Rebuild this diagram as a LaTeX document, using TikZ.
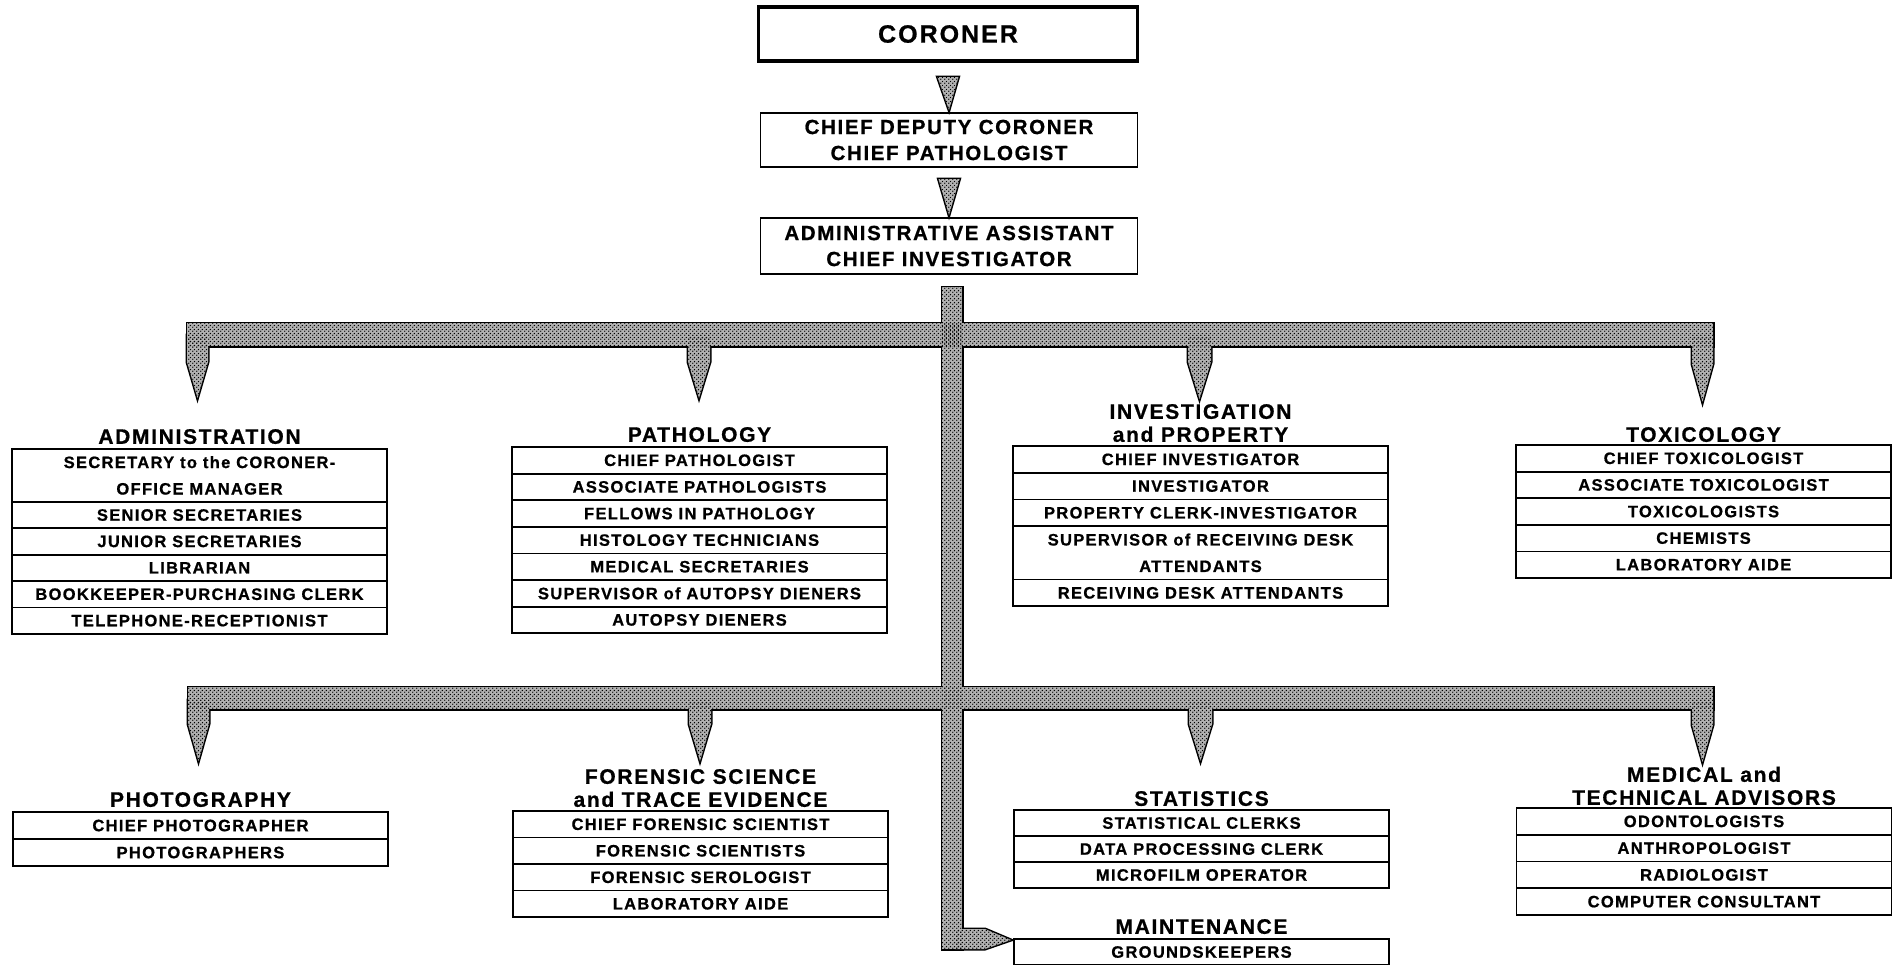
\documentclass[tikz,border=0pt]{standalone}
\usepackage{fontspec}
\setmainfont{Liberation Sans}[LetterSpace=8,BoldFeatures={FakeBold=0.8}]
\usetikzlibrary{calc,patterns}
\pgfdeclarepatternformonly{stipple}{\pgfqpoint{0pt}{0pt}}{\pgfqpoint{4pt}{4pt}}{\pgfqpoint{4pt}{4pt}}{%
  \pgfpathcircle{\pgfqpoint{1pt}{1pt}}{0.85pt}%
  \pgfpathcircle{\pgfqpoint{3pt}{3pt}}{0.85pt}%
  \pgfusepath{fill}}
\newcommand\orgrowfont{\fontsize{16.5}{26.5}\selectfont\bfseries}
\newcommand\orgttlfont{\fontsize{21}{23}\selectfont\bfseries}
\newcommand\orgtopfont{\fontsize{20.5}{26}\selectfont\bfseries}
\newcommand\orgbigfont{\fontsize{25}{28}\selectfont\bfseries}
\tikzset{
  rowbox/.style={draw, line width=1.8pt, minimum width=375pt, minimum height=#1,
    inner sep=0pt, outer sep=0pt, anchor=north, font=\orgrowfont, align=center},
  rowbox/.default=26.5pt,
  ttl/.style={anchor=south, inner sep=0pt, outer sep=0pt, font=\orgttlfont, align=center},
  topbox/.style={draw, line width=1.8pt, minimum width=377pt, minimum height=55pt,
    inner sep=0pt, outer sep=0pt, font=\orgtopfont, align=center},
  busline/.style={draw=black, line width=3pt, line join=miter, miter limit=20},
  busbase/.style={fill=black!30},
  busdots/.style={pattern=stipple, pattern color=black},
}
\newcommand\busparts[1]{%
  #1 (942,287) rectangle (962,949);
  #1 (187,323) rectangle (1713,346);
  #1 (188,687) rectangle (1713,709);
  #1 (187,335) -- (187,362) -- (197.5,398) -- (208,362) -- (208,335) -- cycle;
  #1 (688,335) -- (688,362) -- (699,398) -- (710,362) -- (710,335) -- cycle;
  #1 (1188,335) -- (1188,362) -- (1199.5,399) -- (1211,362) -- (1211,335) -- cycle;
  #1 (1692,335) -- (1692,364) -- (1702.5,402) -- (1713,364) -- (1713,335) -- cycle;
  #1 (188,700) -- (188,724) -- (198.5,761) -- (209,724) -- (209,700) -- cycle;
  #1 (689,700) -- (689,724) -- (700,761) -- (711,724) -- (711,700) -- cycle;
  #1 (1189,700) -- (1189,724) -- (1200.5,761) -- (1212,724) -- (1212,700) -- cycle;
  #1 (1692,700) -- (1692,725) -- (1702.5,762) -- (1713,725) -- (1713,700) -- cycle;
  #1 (955,929) -- (985,929) -- ($(mnt1.north west)+(-3,1)$) -- (985,949) -- (955,949) -- cycle;
  #1 ($(cor.south)+(-10.5,16)$) -- ($(dep.north)+(0,-3)$) -- ($(cor.south)+(10.5,16)$) -- cycle;
  #1 ($(dep.south)+(-10.5,12)$) -- ($(ast.north)+(0,-3)$) -- ($(dep.south)+(10.5,12)$) -- cycle;
}
\begin{document}
\begin{tikzpicture}[x=1pt,y=-1pt]
\useasboundingbox (0,0) rectangle (1894,964);
\clip (0,0) rectangle (1894,964);
\fill[white] (0,0) rectangle (1894,964);

% top chain
\node[topbox, line width=3.2pt, font=\orgbigfont, minimum width=379pt, minimum height=54pt] (cor) at (948,34) {CORONER};
\node[topbox, minimum height=54pt] (dep) at (949,140) {CHIEF DEPUTY CORONER\\CHIEF PATHOLOGIST};
\node[topbox, minimum height=56pt] (ast) at (949,246) {ADMINISTRATIVE ASSISTANT\\CHIEF INVESTIGATOR};

% ADMINISTRATION
\node[rowbox=52.8pt] (adm1) at (199.5,449) {SECRETARY to the CORONER-\\OFFICE MANAGER};
\node[rowbox=26.4pt] (adm2) at (adm1.south) {SENIOR SECRETARIES};
\node[rowbox=26.4pt] (adm3) at (adm2.south) {JUNIOR SECRETARIES};
\node[rowbox=26.4pt] (adm4) at (adm3.south) {LIBRARIAN};
\node[rowbox=26.4pt] (adm5) at (adm4.south) {BOOKKEEPER-PURCHASING CLERK};
\node[rowbox=26.4pt] (adm6) at (adm5.south) {TELEPHONE-RECEPTIONIST};
\node[ttl] (admT) at ($(adm1.north)+(0,-5)$) {ADMINISTRATION};

% PATHOLOGY
\node[rowbox=26.6pt] (pat1) at (699.5,447) {CHIEF PATHOLOGIST};
\node[rowbox=26.6pt] (pat2) at (pat1.south) {ASSOCIATE PATHOLOGISTS};
\node[rowbox=26.6pt] (pat3) at (pat2.south) {FELLOWS IN PATHOLOGY};
\node[rowbox=26.6pt] (pat4) at (pat3.south) {HISTOLOGY TECHNICIANS};
\node[rowbox=26.6pt] (pat5) at (pat4.south) {MEDICAL SECRETARIES};
\node[rowbox=26.6pt] (pat6) at (pat5.south) {SUPERVISOR of AUTOPSY DIENERS};
\node[rowbox=26.6pt] (pat7) at (pat6.south) {AUTOPSY DIENERS};
\node[ttl] (patT) at ($(pat1.north)+(0,-5)$) {PATHOLOGY};

% INVESTIGATION and PROPERTY
\node[rowbox=26.7pt] (inv1) at (1200.5,446) {CHIEF INVESTIGATOR};
\node[rowbox=26.7pt] (inv2) at (inv1.south) {INVESTIGATOR};
\node[rowbox=26.7pt] (inv3) at (inv2.south) {PROPERTY CLERK-INVESTIGATOR};
\node[rowbox=53.4pt] (inv4) at (inv3.south) {SUPERVISOR of RECEIVING DESK\\ATTENDANTS};
\node[rowbox=26.7pt] (inv5) at (inv4.south) {RECEIVING DESK ATTENDANTS};
\node[ttl] (invT) at ($(inv1.north)+(0,-4)$) {INVESTIGATION\\and PROPERTY};

% TOXICOLOGY
\node[rowbox=26.6pt] (tox1) at (1703.5,445) {CHIEF TOXICOLOGIST};
\node[rowbox=26.6pt] (tox2) at (tox1.south) {ASSOCIATE TOXICOLOGIST};
\node[rowbox=26.6pt] (tox3) at (tox2.south) {TOXICOLOGISTS};
\node[rowbox=26.6pt] (tox4) at (tox3.south) {CHEMISTS};
\node[rowbox=26.6pt] (tox5) at (tox4.south) {LABORATORY AIDE};
\node[ttl] (toxT) at ($(tox1.north)+(0,-3)$) {TOXICOLOGY};

% PHOTOGRAPHY
\node[rowbox=27pt] (pho1) at (200.5,812) {CHIEF PHOTOGRAPHER};
\node[rowbox=27pt] (pho2) at (pho1.south) {PHOTOGRAPHERS};
\node[ttl] (phoT) at ($(pho1.north)+(0,-5)$) {PHOTOGRAPHY};

% FORENSIC SCIENCE
\node[rowbox=26.5pt] (for1) at (700.5,811) {CHIEF FORENSIC SCIENTIST};
\node[rowbox=26.5pt] (for2) at (for1.south) {FORENSIC SCIENTISTS};
\node[rowbox=26.5pt] (for3) at (for2.south) {FORENSIC SEROLOGIST};
\node[rowbox=26.5pt] (for4) at (for3.south) {LABORATORY AIDE};
\node[ttl] (forT) at ($(for1.north)+(0,-4)$) {FORENSIC SCIENCE\\and TRACE EVIDENCE};

% STATISTICS
\node[rowbox=26pt] (sta1) at (1201.5,810) {STATISTICAL CLERKS};
\node[rowbox=26pt] (sta2) at (sta1.south) {DATA PROCESSING CLERK};
\node[rowbox=26pt] (sta3) at (sta2.south) {MICROFILM OPERATOR};
\node[ttl] (staT) at ($(sta1.north)+(0,-4)$) {STATISTICS};

% MAINTENANCE
\node[rowbox=26pt] (mnt1) at (1201.5,939) {GROUNDSKEEPERS};
\node[ttl] (mntT) at ($(mnt1.north)+(0,-5)$) {MAINTENANCE};

% MEDICAL and TECHNICAL ADVISORS
\node[rowbox=26.75pt] (med1) at (1704,808) {ODONTOLOGISTS};
\node[rowbox=26.75pt] (med2) at (med1.south) {ANTHROPOLOGIST};
\node[rowbox=26.75pt] (med3) at (med2.south) {RADIOLOGIST};
\node[rowbox=26.75pt] (med4) at (med3.south) {COMPUTER CONSULTANT};
\node[ttl] (medT) at ($(med1.north)+(0,-3)$) {MEDICAL and\\TECHNICAL ADVISORS};

% connector bus: outline, base, dots
\busparts{\path[busline]}
\busparts{\path[busbase]}
\busparts{\path[busdots]}
\end{tikzpicture}
\end{document}
